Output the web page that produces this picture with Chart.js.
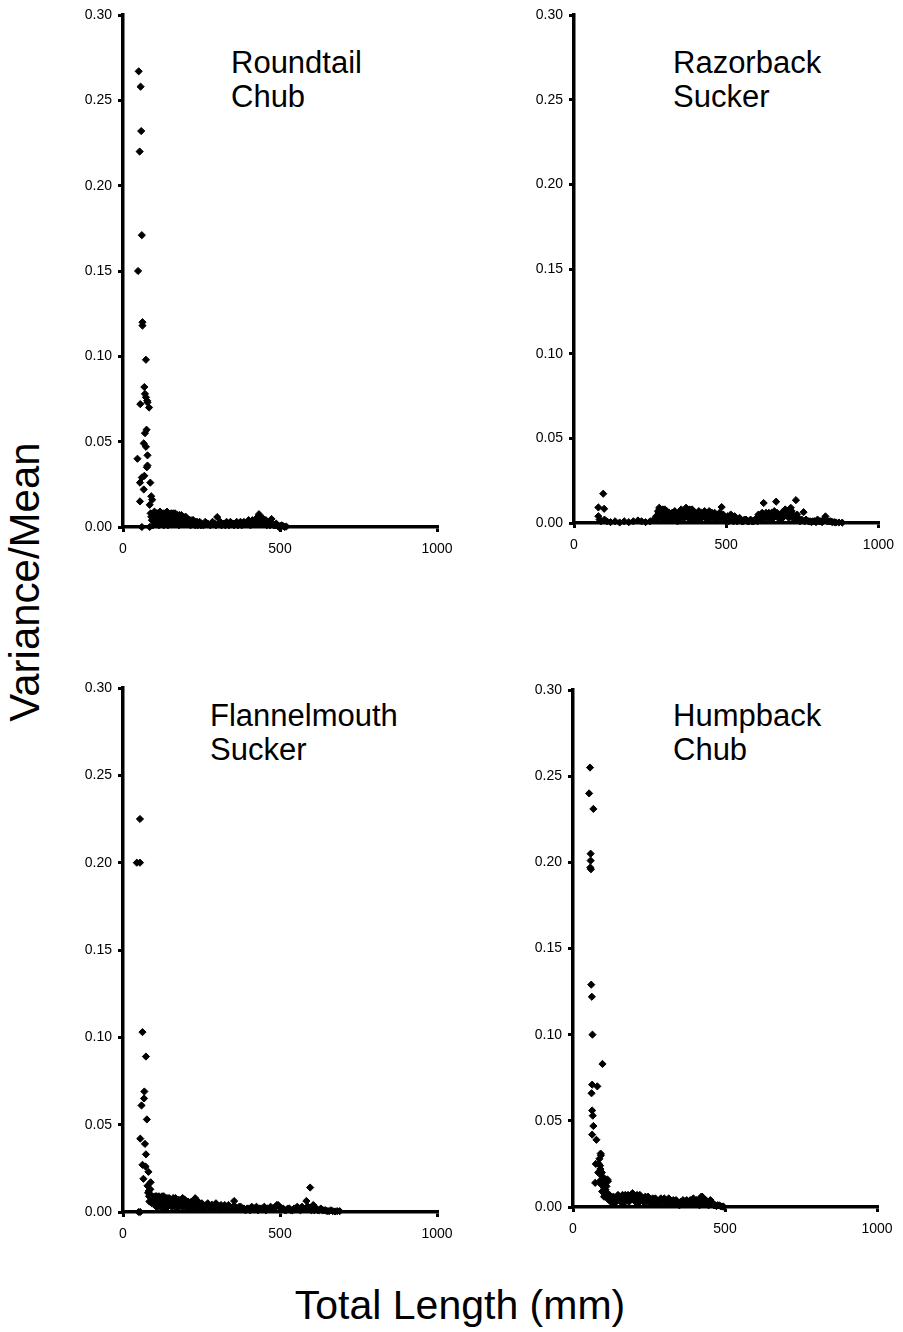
<!DOCTYPE html>
<html>
<head>
<meta charset="utf-8">
<script src="https://cdn.jsdelivr.net/npm/chart.js@4.4.1/dist/chart.umd.min.js"></script>
<style>
  body { margin: 0; background: #fff; width: 903px; height: 1332px; position: relative; overflow: hidden; font-family: "Liberation Sans", Arial, sans-serif; }
  canvas { position: absolute; }
  .name { position: absolute; font-size: 31px; line-height: 34px; color: #000; }
  #ytitle { position: absolute; left: 25px; top: 582px; font-size: 42px; transform: translate(-50%, -50%) rotate(-90deg); white-space: nowrap; }
  #xtitle { position: absolute; left: 460px; top: 1305px; font-size: 41px; transform: translate(-50%, -50%); white-space: nowrap; }
</style>
</head>
<body>

<div class="name" style="left:231px; top:46px;">Roundtail<br>Chub</div>
<div class="name" style="left:673px; top:46px;">Razorback<br>Sucker</div>
<div class="name" style="left:210px; top:699px;">Flannelmouth<br>Sucker</div>
<div class="name" style="left:673px; top:699px;">Humpback<br>Chub</div>
<div id="ytitle">Variance/Mean</div>
<div id="xtitle">Total Length (mm)</div>

<canvas id="c1" width="410" height="560" style="left:60px; top:0px;"></canvas>
<canvas id="c2" width="392" height="560" style="left:511px; top:0px;"></canvas>
<canvas id="c3" width="410" height="590" style="left:60px; top:660px;"></canvas>
<canvas id="c4" width="393" height="590" style="left:510px; top:660px;"></canvas>

<script>
// total length (mm), variance/mean
var roundtail = [
  [50,0.267],[56,0.258],[58,0.232],[53,0.220],[60,0.171],[48,0.150],[62,0.120],[62,0.118],
  [73,0.098],[68,0.082],[70,0.078],[73,0.076],[77,0.074],[55,0.072],[83,0.070],[78,0.073],
  [75,0.057],[70,0.055],[66,0.049],[73,0.047],[78,0.042],[46,0.040],[78,0.036],[76,0.035],
  [68,0.030],[60,0.029],[54,0.026],[87,0.026],[66,0.022],[54,0.015],[90,0.018],[93,0.016],
  [85,0.013],[60,0.000],[85,0.000],
  [88,0.008],[92,0.004],[95,0.001],[100,0.009],[104,0.006],[108,0.003],[110,0.008],[114,0.001],
  [118,0.009],[120,0.005],[124,0.002],[128,0.008],[132,0.006],[135,0.003],[140,0.009],[143,0.001],
  [146,0.007],[150,0.004],[154,0.008],[158,0.002],[162,0.006],[166,0.008],[170,0.003],[174,0.007],
  [178,0.001],[182,0.005],[186,0.007],[190,0.002],[195,0.005],[200,0.006],[205,0.003],[210,0.004],
  [215,0.001],[220,0.004],[226,0.002],[232,0.003],[238,0.001],[244,0.003],[250,0.002],
  [256,0.001],[262,0.003],[270,0.002],[278,0.001],[285,0.003],[292,0.002],[300,0.0058],[306,0.002],
  [314,0.001],[322,0.002],[330,0.003],[338,0.001],[346,0.002],[354,0.001],[362,0.003],[370,0.002],
  [378,0.001],[385,0.003],[392,0.002],[400,0.004],[406,0.001],[412,0.004],[418,0.003],[424,0.005],
  [430,0.004],[433,0.0075],[438,0.006],[442,0.002],[446,0.005],[452,0.003],[458,0.001],[464,0.002],
  [473,0.0047],[480,0.001],[488,0.002],[496,0.000],[505,0.001],[515,0.000],
  [90,0.006],[97,0.007],[102,0.003],[106,0.008],[112,0.005],[116,0.003],[122,0.007],[126,0.004],
  [130,0.001],[134,0.008],[138,0.005],[142,0.006],[148,0.002],[152,0.006],[156,0.005],[160,0.008],
  [164,0.003],[168,0.005],[172,0.002],[176,0.005],[180,0.007],[184,0.002],[188,0.004],[193,0.006],
  [198,0.002],[203,0.005],[208,0.002],[213,0.004],[218,0.002],[224,0.004],[230,0.001],[236,0.003],
  [242,0.002],[248,0.001],[266,0.002],[282,0.002],[296,0.001],[310,0.003],[318,0.002],[326,0.001],
  [334,0.002],[342,0.003],[350,0.002],[358,0.002],[366,0.001],[374,0.003],[382,0.002],[396,0.003],
  [403,0.002],[409,0.003],[415,0.002],[421,0.003],[427,0.002],[436,0.003],[449,0.002],[455,0.004],
  [461,0.003],[468,0.001],[476,0.002],[484,0.001],[492,0.001],[500,0.0005],[510,0.0005],[520,0.0003]
];

var razorback = [
  [80,0.004],[84,0.002],[88,0.001],[96,0.0173],[80,0.0092],[99,0.0084],[100,0.002],[108,0.001],
  [120,0.0005],[135,0.001],[150,0.0003],[165,0.001],[180,0.0005],[195,0.001],[210,0.0015],[222,0.001],
  [235,0.0005],[250,0.001],[262,0.002],[270,0.004],[276,0.007],[280,0.009],[284,0.005],[288,0.002],
  [292,0.008],[296,0.006],[300,0.003],[305,0.007],[310,0.004],[316,0.002],[322,0.006],[328,0.003],
  [334,0.005],[340,0.001],[346,0.004],[352,0.008],[357,0.006],[362,0.003],[368,0.009],[372,0.007],
  [378,0.005],[383,0.002],[388,0.008],[393,0.004],[398,0.006],[404,0.002],[410,0.007],[415,0.005],
  [420,0.003],[426,0.006],[432,0.004],[438,0.002],[444,0.007],[450,0.005],[456,0.003],[462,0.006],
  [468,0.002],[474,0.004],[485,0.0094],[490,0.005],[496,0.002],[502,0.003],[508,0.001],[515,0.005],
  [520,0.002],[528,0.004],[536,0.001],[544,0.003],[552,0.001],[560,0.002],[570,0.001],[580,0.002],
  [590,0.001],[600,0.003],[606,0.005],[612,0.002],[618,0.006],[623,0.0118],[628,0.004],[634,0.003],
  [640,0.006],[646,0.002],[652,0.005],[658,0.007],[664,0.0126],[670,0.004],[676,0.002],[682,0.006],
  [688,0.005],[694,0.008],[700,0.007],[706,0.003],[712,0.009],[718,0.005],[724,0.002],[729,0.0135],
  [736,0.003],[742,0.001],[754,0.0064],[762,0.002],[770,0.001],[780,0.0005],[790,0.001],[800,0.002],
  [810,0.001],[826,0.0039],[838,0.001],[848,0.0005],[860,0.0003],[881,0.0002],
  [274,0.003],[278,0.006],[282,0.008],[286,0.004],[290,0.006],[294,0.003],[298,0.008],[302,0.005],
  [307,0.002],[313,0.006],[319,0.004],[325,0.002],[331,0.007],[337,0.003],[343,0.006],[349,0.002],
  [355,0.004],[360,0.007],[365,0.005],[375,0.003],[380,0.008],[386,0.005],[391,0.007],[396,0.003],
  [401,0.005],[407,0.004],[412,0.002],[418,0.006],[423,0.004],[429,0.007],[435,0.005],[441,0.004],
  [447,0.003],[453,0.006],[459,0.004],[465,0.005],[471,0.003],[478,0.006],[482,0.003],[493,0.004],
  [499,0.001],[505,0.004],[512,0.002],[518,0.003],[524,0.001],[532,0.002],[540,0.002],[548,0.002],
  [556,0.001],[565,0.002],[575,0.001],[585,0.001],[595,0.002],[603,0.001],[609,0.004],[615,0.003],
  [621,0.002],[631,0.006],[637,0.004],[643,0.003],[649,0.006],[655,0.003],[661,0.005],[667,0.006],
  [673,0.003],[679,0.005],[685,0.003],[691,0.004],[697,0.005],[703,0.006],[709,0.004],[715,0.007],
  [721,0.004],[727,0.003],[733,0.005],[739,0.002],[748,0.002],[758,0.001],[775,0.001],[785,0.001],
  [795,0.0005],[805,0.001],[815,0.0005],[820,0.002],[832,0.001],[843,0.001],[855,0.0005],[870,0.0003]
];

var flannelmouth = [
  [54,0.225],[44,0.200],[54,0.200],[62,0.103],[73,0.089],[68,0.069],[67,0.065],[59,0.061],
  [76,0.053],[55,0.042],[70,0.039],[73,0.033],[62,0.027],[72,0.026],[81,0.023],[65,0.019],
  [88,0.017],[50,0.000],[55,0.000],
  [78,0.015],[82,0.012],[86,0.010],[90,0.008],[84,0.006],[95,0.009],[100,0.007],[104,0.005],
  [108,0.009],[112,0.003],[116,0.008],[120,0.006],[124,0.009],[128,0.004],[132,0.007],[136,0.002],
  [140,0.008],[145,0.005],[150,0.007],[155,0.003],[160,0.008],[165,0.006],[170,0.002],[175,0.007],
  [180,0.004],[185,0.006],[190,0.008],[195,0.003],[200,0.006],[205,0.005],[210,0.002],[215,0.005],
  [220,0.004],[230,0.0079],[236,0.003],[242,0.005],[248,0.002],[255,0.004],[262,0.003],[270,0.005],
  [278,0.002],[285,0.004],[292,0.003],[300,0.004],[308,0.002],[316,0.003],[324,0.004],[332,0.002],
  [340,0.003],[354,0.0063],[362,0.002],[370,0.003],[380,0.002],[390,0.001],[400,0.002],[410,0.003],
  [420,0.002],[430,0.001],[440,0.002],[450,0.003],[460,0.002],[470,0.003],[480,0.002],[490,0.004],
  [498,0.003],[505,0.002],[515,0.001],[525,0.002],[535,0.001],[545,0.002],[555,0.003],[565,0.001],
  [575,0.002],[584,0.0063],[590,0.003],[596,0.014],[600,0.001],[606,0.004],[612,0.002],[620,0.001],
  [630,0.002],[640,0.001],[650,0.0005],[662,0.001],[675,0.0003],[690,0.0005],
  [80,0.011],[83,0.009],[87,0.013],[92,0.005],[97,0.006],[102,0.009],[106,0.003],[110,0.006],
  [114,0.009],[118,0.004],[122,0.007],[126,0.002],[130,0.009],[134,0.005],[138,0.006],[142,0.003],
  [147,0.008],[152,0.004],[157,0.006],[162,0.004],[167,0.008],[172,0.005],[177,0.003],[182,0.007],
  [187,0.003],[192,0.005],[197,0.007],[202,0.003],[207,0.006],[212,0.004],[218,0.006],[224,0.003],
  [228,0.005],[233,0.002],[239,0.006],[245,0.004],[251,0.005],[258,0.002],[265,0.004],[274,0.003],
  [282,0.004],[289,0.002],[296,0.005],[304,0.003],[312,0.004],[320,0.002],[328,0.003],[336,0.004],
  [345,0.002],[350,0.003],[358,0.003],[366,0.002],[375,0.003],[385,0.002],[395,0.002],[405,0.001],
  [415,0.002],[425,0.003],[435,0.002],[445,0.002],[455,0.001],[465,0.002],[475,0.002],[485,0.003],
  [494,0.004],[502,0.002],[510,0.002],[520,0.001],[530,0.002],[540,0.001],[550,0.002],[560,0.002],
  [570,0.003],[580,0.002],[587,0.003],[593,0.002],[603,0.003],[609,0.001],[616,0.002],[625,0.001],
  [635,0.001],[645,0.001],[656,0.0005],[668,0.0005],[682,0.0005]
];

var humpback = [
  [56,0.255],[53,0.240],[67,0.231],[58,0.205],[58,0.201],[57,0.197],[59,0.196],[60,0.129],
  [62,0.122],[64,0.100],[97,0.083],[63,0.071],[80,0.070],[61,0.066],[63,0.056],[65,0.053],
  [67,0.047],[63,0.042],[77,0.039],[91,0.031],[75,0.025],[73,0.014],[113,0.016],[95,0.020],
  [85,0.025],[90,0.022],[95,0.018],[88,0.015],[100,0.013],[105,0.016],[110,0.012],[96,0.009],
  [102,0.006],[112,0.008],[118,0.004],[124,0.006],[130,0.002],[136,0.005],[142,0.003],[148,0.007],
  [154,0.004],[160,0.006],[166,0.002],[172,0.007],[178,0.005],[184,0.003],[190,0.007],[196,0.008],
  [202,0.004],[208,0.006],[214,0.002],[220,0.007],[226,0.005],[232,0.003],[238,0.006],[244,0.004],
  [250,0.005],[256,0.002],[262,0.005],[268,0.003],[274,0.004],[280,0.002],[286,0.004],[292,0.003],
  [300,0.005],[306,0.002],[312,0.004],[318,0.003],[324,0.002],[330,0.004],[336,0.002],[342,0.003],
  [350,0.001],[358,0.003],[366,0.002],[374,0.004],[382,0.002],[390,0.003],[396,0.005],[402,0.002],
  [410,0.003],[416,0.001],[422,0.006],[428,0.005],[434,0.002],[440,0.003],[446,0.001],[452,0.004],
  [458,0.002],[464,0.001],[472,0.0005],[480,0.001],[490,0.0003],
  [83,0.020],[87,0.028],[92,0.030],[89,0.024],[93,0.013],[98,0.015],[103,0.011],[107,0.010],
  [115,0.015],[108,0.007],[114,0.005],[120,0.007],[127,0.004],[133,0.006],[139,0.003],[145,0.005],
  [151,0.006],[157,0.003],[163,0.007],[169,0.004],[175,0.006],[181,0.007],[187,0.004],[193,0.005],
  [199,0.006],[205,0.003],[211,0.007],[217,0.004],[223,0.006],[229,0.004],[235,0.005],[241,0.003],
  [247,0.006],[253,0.004],[259,0.003],[265,0.004],[271,0.005],[277,0.003],[283,0.003],[289,0.005],
  [295,0.004],[303,0.003],[309,0.004],[315,0.005],[321,0.003],[327,0.003],[333,0.003],[339,0.004],
  [346,0.002],[354,0.003],[362,0.004],[370,0.003],[378,0.003],[386,0.004],[393,0.002],[399,0.003],
  [406,0.004],[413,0.003],[419,0.004],[425,0.006],[431,0.003],[437,0.004],[443,0.002],[449,0.003],
  [455,0.003],[461,0.002],[468,0.001],[476,0.001],[485,0.0005],[495,0.0002]
];

var xTicks = [0, 500, 1000];
var yTicks = [0, 0.05, 0.10, 0.15, 0.20, 0.25, 0.30];

function makePanel(id, points, padTop, padRight, yWidth, xHeight) {
  new Chart(document.getElementById(id), {
    type: 'scatter',
    data: {
      datasets: [{
        data: points.map(function (p) { return { x: p[0], y: p[1] }; }),
        pointStyle: 'rectRot',
        pointRadius: 3.6,
        backgroundColor: '#000',
        borderColor: '#000',
        borderWidth: 1,
        clip: false
      }]
    },
    options: {
      responsive: false,
      animation: false,
      events: [],
      layout: { padding: { top: padTop, right: padRight, left: 0, bottom: 0 } },
      plugins: { legend: { display: false }, tooltip: { enabled: false } },
      scales: {
        x: {
          type: 'linear', min: 0, max: 1000,
          afterBuildTicks: function (s) { s.ticks = xTicks.map(function (v) { return { value: v }; }); },
          afterFit: function (s) { s.height = xHeight; },
          grid: { drawOnChartArea: false, color: '#000', lineWidth: 3, tickLength: 5 },
          border: { color: '#000', width: 3.5 },
          ticks: {
            color: '#000', padding: 9, maxRotation: 0, font: { family: 'Liberation Sans, Arial', size: 14 },
            callback: function (v) { return String(v); }
          }
        },
        y: {
          type: 'linear', min: 0, max: 0.3,
          afterBuildTicks: function (s) { s.ticks = yTicks.map(function (v) { return { value: v }; }); },
          afterFit: function (s) { s.width = yWidth; },
          grid: { drawOnChartArea: false, color: '#000', lineWidth: 3, tickLength: 5 },
          border: { color: '#000', width: 3.5 },
          ticks: {
            color: '#000', padding: 6, font: { family: 'Liberation Sans, Arial', size: 14 },
            callback: function (v) { return v.toFixed(2); }
          }
        }
      }
    }
  });
}

makePanel('c1', roundtail, 15, 33, 63, 33);
makePanel('c2', razorback, 15, 24, 63, 37);
makePanel('c3', flannelmouth, 28, 33, 63, 38);
makePanel('c4', humpback, 30, 26, 63, 43);
</script>
</body>
</html>
